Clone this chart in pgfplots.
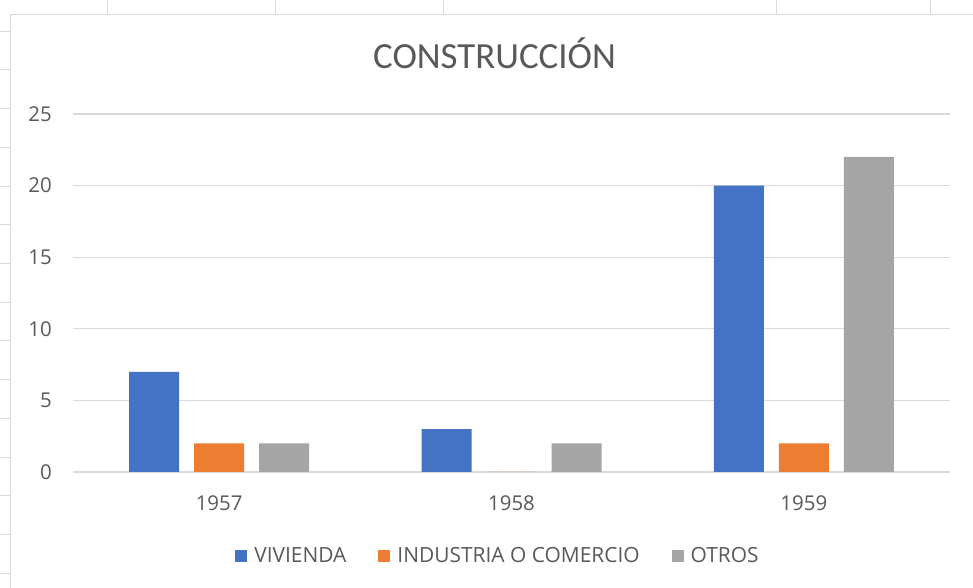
\documentclass[border=0pt]{standalone}
\usepackage{fontspec}
\setmainfont{Open Sans}
\newfontfamily\titlefont{Carlito}
\usepackage{pgfplots}
\pgfplotsset{compat=1.18}
\definecolor{cblue}{HTML}{4472C4}
\definecolor{corange}{HTML}{ED7D31}
\definecolor{cgray}{HTML}{A5A5A5}
\definecolor{gridgray}{HTML}{D9D9D9}
\definecolor{textgray}{HTML}{595959}
\definecolor{framegray}{HTML}{DADADA}
\begin{document}
\begin{tikzpicture}[x=1bp,y=1bp]
\path[use as bounding box] (0,0) rectangle (973,588);
\fill[white] (0,0) rectangle (973,588);
% worksheet frame
\draw[framegray, line width=1bp] (10,0) -- (10,573) -- (973,573);
\foreach \xx in {107,275,443,776,930} {\draw[framegray, line width=0.8bp] (\xx,573) -- (\xx,588);}
\foreach \yy in {15,54,93,131,170,209,248,286,325,364,402,441,480,519,557} {\draw[framegray, line width=0.8bp] (0,\yy) -- (10,\yy);}
\begin{axis}[
  at={(73bp,116bp)}, anchor=south west,
  scale only axis, width=877bp, height=358bp,
  xmin=-0.5, xmax=2.5, ymin=0, ymax=25,
  xtick={0,1,2}, xticklabels={1957,1958,1959},
  ytick={0,5,10,15,20,25},
  /pgf/number format/assume math mode=true,
  ymajorgrids, grid style={draw=gridgray, line width=1.2bp},
  axis line style={draw=none}, tick style={draw=none},
  tick label style={font=\fontsize{20.5}{24}\selectfont, text=textgray},
  xticklabel style={anchor=center, inner sep=0pt, yshift=-31bp},
  yticklabel style={anchor=east, inner sep=0pt, xshift=-21bp},
  legend style={at={(0.4846,-0.2346)}, anchor=center, draw=none, fill=none,
    font=\fontsize{21}{25}\selectfont, text=textgray,
    /tikz/every even column/.append style={column sep=30bp}},
  legend columns=3, legend cell align=left,
]
\addplot[ybar, bar width=50bp, bar shift=-65bp, fill=cblue, draw=none,
  legend image code/.code={\fill[cblue] (0bp,-6bp) rectangle (12bp,6bp); \path (17bp,0bp);}]
  coordinates {(0,7) (1,3) (2,20)};
\addplot[ybar, bar width=50bp, bar shift=0bp, fill=corange, draw=none,
  legend image code/.code={\fill[corange] (0bp,-6bp) rectangle (12bp,6bp); \path (17bp,0bp);}]
  coordinates {(0,2) (1,0) (2,2)};
\addplot[ybar, bar width=50bp, bar shift=65bp, fill=cgray, draw=none,
  legend image code/.code={\fill[cgray] (0bp,-6bp) rectangle (12bp,6bp); \path (17bp,0bp);}]
  coordinates {(0,2) (1,2) (2,22)};
\legend{VIVIENDA, INDUSTRIA O COMERCIO, OTROS}
\end{axis}
\node[anchor=base, inner sep=0pt, text=textgray, font=\titlefont\fontsize{37}{44}\selectfont] at (494.5,519) {CONSTRUCCIÓN};
\end{tikzpicture}
\end{document}
